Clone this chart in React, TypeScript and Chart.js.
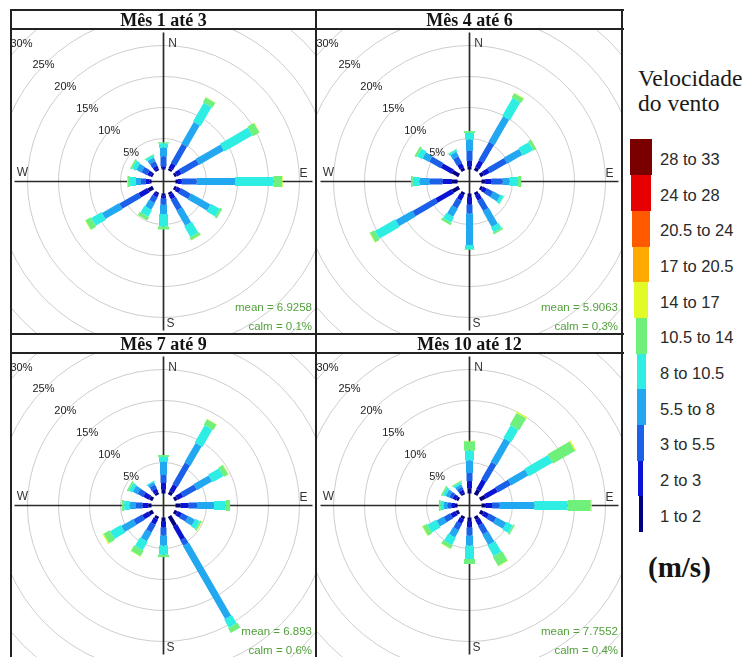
import React, { useEffect, useRef } from "react";
import { Chart, registerables } from "chart.js";

Chart.register(...registerables);

// ---------------- data ----------------
const DIRECTIONS = [0, 30, 60, 90, 120, 150, 180, 210, 240, 270, 300, 330];
const SPEED_BINS = ["1 to 2", "2 to 3", "3 to 5.5", "5.5 to 8", "8 to 10.5", "10.5 to 14", "14 to 17", "17 to 20.5", "20.5 to 24", "24 to 28", "28 to 33"];
const RING_PCTS = [5, 10, 15, 20, 25, 30];
const PANEL_TITLES = ["Mês 1 até 3", "Mês 4 até 6", "Mês 7 até 9", "Mês 10 até 12"];
const MEAN_SPEEDS = ["6.9258", "5.9063", "6.893", "7.7552"];
const CALM_PCTS = ["0.1%", "0.3%", "0.6%", "0.4%"];

// frequency (%) per direction (rows, DIRECTIONS order) and speed bin (columns, SPEED_BINS order, first 7)
const FREQ_M01_03 = [
  [0.2, 0.3, 1.6, 1.4, 0.7, 0.2, 0],
  [0.4, 0.9, 3.5, 4.0, 3.5, 0.9, 0.1],
  [0.4, 0.8, 3.2, 4.6, 5.2, 1.2, 0.1],
  [0.4, 0.6, 2.4, 6.2, 6.2, 1.4, 0.1],
  [0.4, 0.7, 1.8, 3.6, 1.6, 0.4, 0],
  [0.4, 0.8, 2.0, 2.8, 2.0, 0.5, 0.05],
  [0.3, 0.5, 1.0, 1.5, 2.0, 0.5, 0],
  [0.3, 0.5, 1.0, 1.2, 1.2, 0.6, 0],
  [0.9, 1.6, 3.5, 3.2, 1.9, 1.0, 0.1],
  [0.3, 0.6, 0.8, 0.8, 1.0, 0.3, 0.15],
  [0.3, 0.6, 1.0, 0.9, 0.7, 0.3, 0],
  [0.3, 0.5, 0.8, 0.6, 0.4, 0.1, 0],
];
const FREQ_M04_06 = [
  [0.5, 0.9, 1.6, 1.8, 1.1, 0.3, 0],
  [0.6, 1.2, 3.4, 4.7, 3.3, 0.8, 0.1],
  [0.6, 1.0, 3.2, 2.8, 1.9, 0.5, 0],
  [0.6, 1.0, 1.8, 1.1, 1.4, 0.5, 0],
  [0.4, 0.7, 1.1, 1.3, 0.5, 0.1, 0],
  [0.5, 0.9, 1.9, 2.9, 0.9, 0.3, 0],
  [0.6, 1.2, 1.4, 5.1, 0.7, 0.1, 0],
  [0.5, 0.9, 1.4, 1.5, 1.0, 0.4, 0],
  [1.2, 3.0, 4.2, 3.1, 3.8, 0.8, 0.1],
  [0.9, 1.5, 2.1, 1.6, 1.1, 0.3, 0],
  [1.2, 2.0, 2.1, 1.2, 0.9, 0.4, 0],
  [0.5, 0.8, 1.2, 0.8, 0.3, 0.1, 0],
];
const FREQ_M07_09 = [
  [0.6, 1.1, 1.3, 2.1, 0.8, 0.3, 0],
  [0.6, 1.2, 4.0, 3.6, 3.2, 1.0, 0.1],
  [0.5, 1.0, 2.5, 2.8, 2.0, 0.8, 0.1],
  [0.8, 1.3, 1.4, 2.7, 1.9, 0.7, 0],
  [0.5, 0.8, 1.1, 1.2, 0.8, 0.3, 0.1],
  [1.8, 2.5, 1.0, 13.6, 1.5, 0.9, 0],
  [0.6, 1.0, 1.3, 1.6, 1.5, 0.4, 0],
  [0.5, 0.9, 1.4, 1.6, 1.6, 1.0, 0.1],
  [0.7, 1.1, 1.6, 2.2, 2.0, 1.1, 0.2],
  [0.5, 0.9, 1.1, 1.0, 0.9, 0.4, 0],
  [0.6, 1.0, 1.0, 0.9, 0.6, 0.3, 0],
  [0.4, 0.6, 0.7, 0.4, 0.2, 0, 0],
];
const FREQ_M10_12 = [
  [0.8, 1.2, 1.3, 2.0, 1.6, 1.5, 0.1],
  [0.9, 1.8, 3.2, 4.3, 2.4, 2.2, 0.2],
  [1.0, 2.1, 2.4, 3.2, 4.4, 4.1, 0.2],
  [0.7, 1.0, 1.2, 5.6, 5.4, 3.7, 0.2],
  [0.6, 0.9, 1.3, 1.8, 1.1, 0.3, 0],
  [0.6, 1.0, 1.6, 1.9, 2.0, 1.7, 0.1],
  [0.6, 1.0, 1.3, 1.6, 2.2, 0.8, 0],
  [0.5, 0.8, 1.1, 1.3, 1.3, 0.6, 0.1],
  [0.5, 0.9, 1.2, 1.3, 1.6, 0.8, 0.1],
  [0.4, 0.6, 0.6, 0.6, 0.5, 0.3, 0],
  [0.4, 0.6, 0.6, 0.6, 0.4, 0.3, 0],
  [0.3, 0.5, 0.5, 0.4, 0.3, 0.2, 0.05],
];
const PANEL_FREQS = [FREQ_M01_03, FREQ_M04_06, FREQ_M07_09, FREQ_M10_12];

// ---------------- styles ----------------
const BIN_COLORS = ["#000080", "#0a14d2", "#1a60e8", "#22a8f0", "#2eeee4", "#6ef07a", "#e2fa28", "#ffaa00", "#ff5a00", "#e60000", "#7a0000"];
const SEG_WIDTHS = [4, 5, 6, 7, 9, 11, 12, 12, 12, 12, 12];
const LEGEND_SWATCH = [
  [639, 4], [638, 5], [637, 7], [637, 9], [637, 9], [636, 11], [634, 14], [633, 16], [632, 18], [631, 20], [630, 22],
]; // left, width for SPEED_BINS order (bottom to top)
const PANEL = 305;
const PX_PER_PCT = 6.2;
const HOLE = 12 / PX_PER_PCT;
const HALF = PANEL / 2 / PX_PER_PCT;
const AXIS_EXT = 149 / PX_PER_PCT;
const SANS = "'Liberation Sans', Arial, sans-serif";
const SERIF = "'Liberation Serif', 'Times New Roman', serif";

function makePlugin(mean: string, calm: string) {
  return {
    id: "roseDecor",
    beforeDatasetsDraw(chart: any) {
      const { ctx } = chart;
      const x = chart.scales.x;
      const y = chart.scales.y;
      const cx = x.getPixelForValue(0);
      const cy = y.getPixelForValue(0);
      ctx.save();
      ctx.strokeStyle = "#cdcdcd";
      ctx.lineWidth = 1;
      RING_PCTS.forEach((p) => {
        const r = x.getPixelForValue(HOLE + p) - cx;
        ctx.beginPath();
        ctx.arc(cx, cy, r, 0, Math.PI * 2);
        ctx.stroke();
      });
      ctx.restore();
    },
    afterDatasetsDraw(chart: any) {
      const { ctx, width, height } = chart;
      const x = chart.scales.x;
      const y = chart.scales.y;
      const cx = x.getPixelForValue(0);
      const cy = y.getPixelForValue(0);
      ctx.save();
      ctx.fillStyle = "#222";
      ctx.textAlign = "center";
      ctx.textBaseline = "middle";
      ctx.font = `11px ${SANS}`;
      RING_PCTS.forEach((p) => {
        const r = x.getPixelForValue(HOLE + p) - cx;
        const d = r * Math.SQRT1_2;
        ctx.fillText(`${p}%`, cx - d - 2, cy - d + 2);
      });
      ctx.font = `12px ${SANS}`;
      ctx.fillStyle = "#333";
      ctx.fillText("N", cx + 9, cy - 138);
      ctx.fillText("E", cx + 140, cy - 8);
      ctx.fillText("S", cx + 7, cy + 142);
      ctx.fillText("W", cx - 141, cy - 9);
      ctx.textAlign = "right";
      ctx.fillStyle = "#52a03c";
      ctx.font = `11.5px ${SANS}`;
      ctx.fillText(`mean = ${mean}`, width - 4, height - 26);
      ctx.fillText(`calm = ${calm}`, width - 4, height - 7);
      ctx.restore();
    },
  };
}

function Rose({ idx, left, top }: { idx: number; left: number; top: number }) {
  const ref = useRef<HTMLCanvasElement>(null);
  useEffect(() => {
    const freq = PANEL_FREQS[idx];
    const datasets: any[] = [];
    DIRECTIONS.forEach((deg, d) => {
      const th = (deg * Math.PI) / 180;
      const sx = Math.sin(th);
      const sy = Math.cos(th);
      let cum = 0;
      freq[d].forEach((v, b) => {
        if (v <= 0) return;
        const r0 = HOLE + cum;
        const r1 = HOLE + cum + v;
        cum += v;
        datasets.push({
          label: `${deg}° ${SPEED_BINS[b]}`,
          data: [
            { x: r0 * sx, y: r0 * sy },
            { x: r1 * sx, y: r1 * sy },
          ],
          showLine: true,
          tension: 0.0001,
          borderColor: BIN_COLORS[b],
          backgroundColor: BIN_COLORS[b],
          borderWidth: SEG_WIDTHS[b],
          borderCapStyle: "butt",
          borderJoinStyle: "bevel",
          pointRadius: 0,
          order: 1,
        });
      });
    });
    datasets.push({
      label: "EW",
      data: [
        { x: -AXIS_EXT, y: 0 },
        { x: AXIS_EXT, y: 0 },
      ],
      showLine: true,
      borderColor: "#2a2a2a",
      borderWidth: 1.7,
      pointRadius: 0,
      order: 10,
    });
    datasets.push({
      label: "NS",
      data: [
        { x: 0, y: -AXIS_EXT },
        { x: 0, y: AXIS_EXT },
      ],
      showLine: true,
      tension: 0.0001,
      borderColor: "#2a2a2a",
      borderWidth: 1.7,
      pointRadius: 0,
      order: 10,
    });
    const chart = new Chart(ref.current as HTMLCanvasElement, {
      type: "scatter",
      data: { datasets },
      options: {
        animation: false,
        responsive: false,
        events: [],
        layout: { padding: 0 },
        plugins: { legend: { display: false }, tooltip: { enabled: false }, title: { display: false } },
        scales: {
          x: { type: "linear", min: -HALF, max: HALF, display: false },
          y: { type: "linear", min: -HALF, max: HALF, display: false },
        },
      },
      plugins: [makePlugin(MEAN_SPEEDS[idx], CALM_PCTS[idx])],
    } as any);
    return () => chart.destroy();
  }, [idx]);
  return (
    <canvas
      ref={ref}
      width={PANEL}
      height={PANEL}
      style={{ position: "absolute", left, top, width: PANEL, height: PANEL }}
    />
  );
}

const PANELS = [
  { left: 11, top: 29, titleTop: 10 },
  { left: 317, top: 29, titleTop: 10 },
  { left: 11, top: 353, titleTop: 334 },
  { left: 317, top: 353, titleTop: 334 },
];

export default function App() {
  const hLines = [10, 29, 334, 353];
  const vLines = [11, 316, 622];
  const rowH = 35.7;
  const legendTop = 139;
  return (
    <div
      style={{
        position: "absolute",
        left: 0,
        top: 0,
        width: 745,
        height: 657,
        overflow: "hidden",
        background: "#fff",
      }}
    >
      {PANELS.map((p, i) => (
        <Rose key={i} idx={i} left={p.left} top={p.top} />
      ))}
      {PANELS.map((p, i) => (
        <div
          key={"t" + i}
          style={{
            position: "absolute",
            left: p.left,
            top: p.titleTop + 1,
            width: PANEL,
            height: 18,
            lineHeight: "18px",
            textAlign: "center",
            fontFamily: SERIF,
            fontWeight: "bold",
            fontSize: 18,
            color: "#141414",
            whiteSpace: "nowrap",
          }}
        >
          {PANEL_TITLES[i]}
        </div>
      ))}
      {hLines.map((y) => (
        <div key={"h" + y} style={{ position: "absolute", left: 10, top: y - 1, width: 614, height: 2, background: "#222" }} />
      ))}
      {vLines.map((x) => (
        <div key={"v" + x} style={{ position: "absolute", left: x - 1, top: 9, width: 2, height: 660, background: "#222" }} />
      ))}
      <div
        style={{
          position: "absolute",
          left: 638,
          top: 66,
          fontFamily: SERIF,
          fontSize: 23.5,
          lineHeight: "25px",
          color: "#1a1a1a",
          whiteSpace: "nowrap",
        }}
      >
        Velocidade
        <br />
        do vento
      </div>
      {SPEED_BINS.map((lab, b) => {
        const row = SPEED_BINS.length - 1 - b;
        const [l, w] = LEGEND_SWATCH[b];
        return (
          <React.Fragment key={lab}>
            <div
              style={{
                position: "absolute",
                left: l,
                top: legendTop + row * rowH,
                width: w,
                height: rowH + 0.5,
                background: BIN_COLORS[b],
              }}
            />
            <div
              style={{
                position: "absolute",
                left: 660,
                top: legendTop + row * rowH + rowH / 2 + 2 - 10,
                height: 20,
                lineHeight: "20px",
                fontFamily: SANS,
                fontSize: 16.5,
                color: "#2a2a2a",
                whiteSpace: "nowrap",
              }}
            >
              {lab}
            </div>
          </React.Fragment>
        );
      })}
      <div
        style={{
          position: "absolute",
          left: 648,
          top: 551,
          fontFamily: SERIF,
          fontWeight: "bold",
          fontSize: 29,
          lineHeight: "32px",
          color: "#141414",
          whiteSpace: "nowrap",
        }}
      >
        (m/s)
      </div>
    </div>
  );
}
